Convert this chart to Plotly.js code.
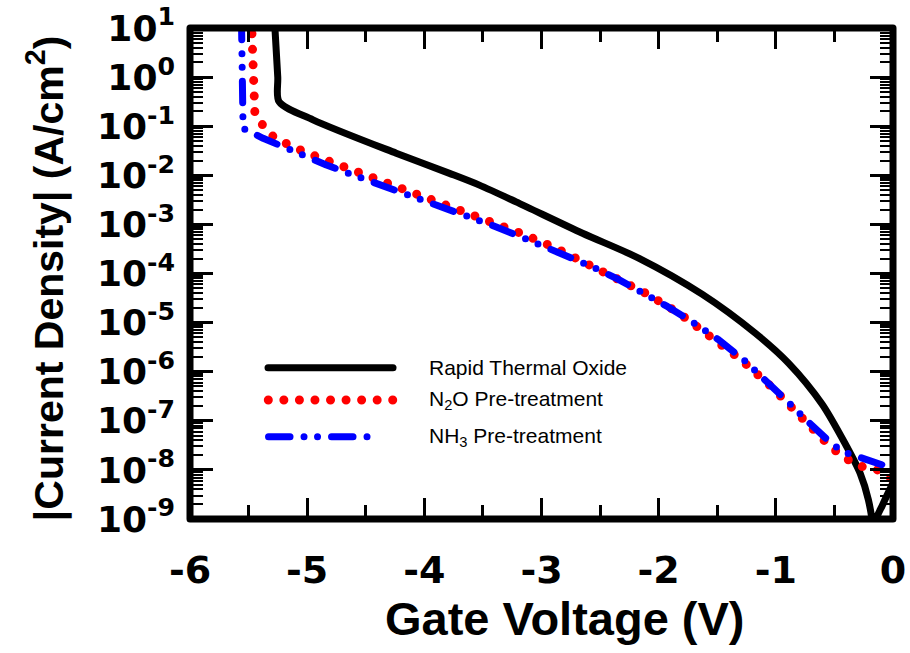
<!DOCTYPE html>
<html>
<head>
<meta charset="utf-8">
<script src="https://cdn.plot.ly/plotly-3.0.1.min.js"></script>
<style>
  html, body { margin: 0; padding: 0; background: #fff; }
  #chart { width: 910px; height: 653px; }
  .js-line, .shapelayer path { stroke-linecap: round !important; stroke-linejoin: round !important; }
</style>
</head>
<body>
<div id="chart"></div>
<script>
// ---- Data ----
const rtoV = [-5.28, -5.251, -5.24, -4.95, -4.24, -3.785, -3.53, -3.217, -2.65, -2.167, -1.63, -1.173, -0.89, -0.606, -0.41, -0.28, -0.21, -0.165, -0.155, -0.137, -0.094, -0.05, 0];
const rtoJ = [15.8, 1.0, 0.316, 0.135, 0.0282, 0.01096, 6.31e-3, 2.88e-3, 6.61e-4, 2.04e-4, 3.8e-5, 6.03e-6, 1.48e-6, 2.2e-7, 3.47e-8, 8.51e-9, 2.45e-9, 5.0e-10, 1.0e-10, 1.07e-9, 1.82e-9, 3.09e-9, 5.5e-9];

const n2oV = [-5.476, -5.446, -5.41, -5.36, -5.276, -5.006, -4.745, -4.217, -3.686, -3.42, -3.155, -2.89, -2.627, -2.365, -2.096, -1.826, -1.571, -1.30, -1.037, -0.784, -0.534, -0.393, -0.265, -0.132, 0];
const n2oJ = [15.8, 0.1746, 0.1276, 0.0933, 0.0568, 0.0288, 0.01698, 5.86e-3, 1.96e-3, 1.135e-3, 6.31e-4, 3.39e-4, 1.70e-4, 8.61e-5, 3.80e-5, 1.55e-5, 5.62e-6, 1.78e-6, 4.90e-7, 1.12e-7, 2.95e-8, 1.66e-8, 1.17e-8, 1.0e-8, 6.31e-9];

const nh3V = [-5.561, -5.547, -5.376, -5.148, -4.836, -4.509, -4.19, -3.97, -3.757, -3.43, -3.11, -2.891, -2.57, -2.352, -2.144, -1.923, -1.67, -1.494, -1.273, -1.074, -0.847, -0.733, -0.534, -0.427, -0.313, -0.2, 0];
const nh3J = [15.8, 0.0906, 0.0568, 0.0327, 0.01622, 8.32e-3, 4.47e-3, 2.90e-3, 1.905e-3, 9.77e-4, 4.81e-4, 2.92e-4, 1.38e-4, 7.76e-5, 4.27e-5, 2.11e-5, 8.91e-6, 4.57e-6, 1.74e-6, 6.46e-7, 1.88e-7, 1.0e-7, 3.59e-8, 2.34e-8, 1.91e-8, 1.58e-8, 1.07e-8];

const seriesNames = ['Rapid Thermal Oxide', 'N<sub>2</sub>O Pre-treatment', 'NH<sub>3</sub> Pre-treatment'];
const xTickVals = [-6, -5, -4, -3, -2, -1, 0];
const xTickText = ['-6', '-5', '-4', '-3', '-2', '-1', '0'];
const yTickVals = [1e-9, 1e-8, 1e-7, 1e-6, 1e-5, 1e-4, 1e-3, 1e-2, 1e-1, 1e0, 1e1];
const yTickText = ['10<sup>-9</sup>', '10<sup>-8</sup>', '10<sup>-7</sup>', '10<sup>-6</sup>', '10<sup>-5</sup>', '10<sup>-4</sup>', '10<sup>-3</sup>', '10<sup>-2</sup>', '10<sup>-1</sup>', '10<sup>0</sup>', '10<sup>1</sup>'];
const yMinorDigits = [2, 3, 4, 5, 6, 7, 8, 9];
const xTitle = 'Gate Voltage (V)';
const yTitle = '|Current Density| (A/cm<sup>2</sup>)';

// minor tick positions on the log axis (2..9 within each decade)
const yMinorVals = [];
yTickVals.slice(0, -1).forEach(d => yMinorDigits.forEach(m => yMinorVals.push(d * m)));

// ---- Styles ----
const FONT = 'Liberation Sans, Arial, sans-serif';
const TICKFONT = 'DejaVu Sans, Liberation Sans, sans-serif';
const styles = [
  { color: '#000000', width: 7, dash: 'solid', shape: 'spline', smoothing: 0.8 },
  { color: '#ff0000', width: 9, dash: '0px,15.55px', shape: 'linear', smoothing: 0 },
  { color: '#0000ff', width: 7, dash: '21.5px,14px,0px,13.5px,0px,14px', shape: 'linear', smoothing: 0 }
];

const traces = [
  { x: rtoV, y: rtoJ, name: seriesNames[0] },
  { x: n2oV, y: n2oJ, name: seriesNames[1] },
  { x: nh3V, y: nh3J, name: seriesNames[2] }
].map((t, i) => Object.assign(t, {
  type: 'scatter', mode: 'lines', showlegend: false, hoverinfo: 'skip',
  line: { color: styles[i].color, width: styles[i].width, dash: styles[i].dash, shape: styles[i].shape, smoothing: styles[i].smoothing || undefined }
}));

// Manual legend (paper coordinates)
const legRows = [0.3081, 0.2424, 0.1676];
const legX0 = [0.111, 0.1114, 0.1117];
const legX1 = [0.2888, 0.2884, 0.2710];
const shapes = [
  { type: 'rect', xref: 'paper', yref: 'paper', x0: 0, x1: 1, y0: 0, y1: 1,
    line: { color: '#000', width: 7 }, layer: 'above' }
];
const annotations = [];
for (let i = 0; i < 3; i++) {
  shapes.push({ type: 'line', xref: 'paper', yref: 'paper', x0: legX0[i], x1: legX1[i], y0: legRows[i], y1: legRows[i],
    line: { color: styles[i].color, width: styles[i].width, dash: styles[i].dash }, layer: 'above' });
  annotations.push({ xref: 'paper', yref: 'paper', x: 0.3371, y: legRows[i], xanchor: 'left', yanchor: 'middle',
    text: seriesNames[i], showarrow: false, font: { family: FONT, size: 21, color: '#000' } });
}
// Axis titles as annotations for precise placement
annotations.push({ xref: 'paper', yref: 'paper', x: 0.534, y: -0.2601, xanchor: 'center', yanchor: 'bottom',
  text: xTitle, showarrow: false, font: { family: FONT, size: 47, color: '#000', weight: 'bold' } });
annotations.push({ xref: 'paper', yref: 'paper', x: -0.1654, y: 0.49, xanchor: 'right', yanchor: 'middle', textangle: -90,
  text: yTitle, showarrow: false, font: { family: FONT, size: 41, color: '#000', weight: 'bold' } });

const layout = {
  width: 910, height: 653,
  margin: { l: 190, r: 17, t: 28, b: 134 },
  paper_bgcolor: '#fff', plot_bgcolor: '#fff',
  showlegend: false,
  font: { family: FONT, color: '#000' },
  xaxis: {
    range: [-6, 0], tickmode: 'array', tickvals: xTickVals, ticktext: xTickText,
    ticks: 'inside', ticklen: 21, tickwidth: 3, tickcolor: '#000', mirror: 'ticks',
    showline: false, showgrid: false, zeroline: false,
    tickfont: { family: TICKFONT, size: 38, color: '#000', weight: 'bold' },
    ticklabelstandoff: 25, ticklabeloverflow: 'allow',
    minor: { ticks: 'inside', ticklen: 14, tickwidth: 3, tickcolor: '#000', dtick: 0.5, tick0: 0, showgrid: false },
    automargin: false
  },
  yaxis: {
    type: 'log', range: [-9, 1], tickmode: 'array', tickvals: yTickVals, ticktext: yTickText,
    ticks: 'inside', ticklen: 23, tickwidth: 3, tickcolor: '#000', mirror: 'ticks',
    showline: false, showgrid: false, zeroline: false,
    tickfont: { family: TICKFONT, size: 36, color: '#000', weight: 'bold' },
    ticklabelstandoff: 14, ticklabeloverflow: 'allow',
    minor: { tickmode: 'array', tickvals: yMinorVals, ticks: 'inside', ticklen: 13, tickwidth: 2, tickcolor: '#000', showgrid: false },
    automargin: false
  },
  shapes: shapes,
  annotations: annotations
};

Plotly.newPlot('chart', traces, layout, { staticPlot: true, displayModeBar: false });
</script>
</body>
</html>
